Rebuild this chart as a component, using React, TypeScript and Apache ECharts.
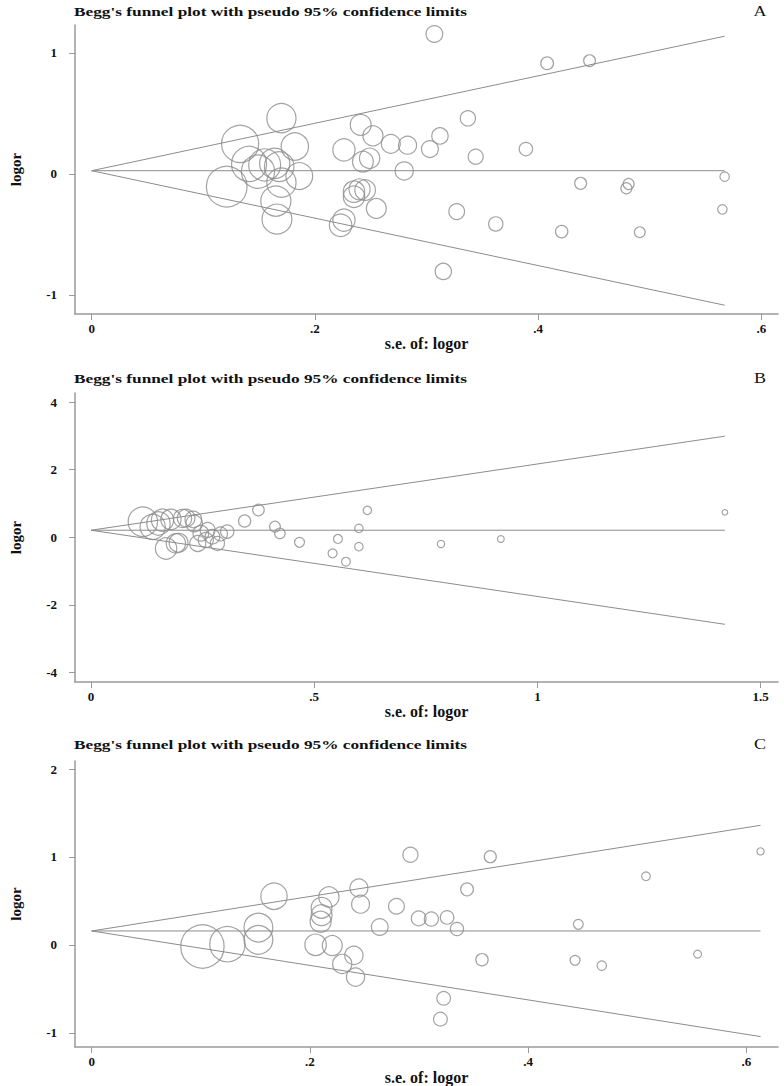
import React, { useEffect, useRef } from 'react';
import * as echarts from 'echarts';

const TITLE = "Begg's funnel plot with pseudo 95% confidence limits";
const X_NAME = 's.e. of: logor';
const Y_NAME = 'logor';

// Panel A
const seA = [0.170, 0.133, 0.182, 0.121, 0.141, 0.149, 0.155, 0.164, 0.168, 0.170, 0.186, 0.165, 0.166,
  0.241, 0.252, 0.226, 0.243, 0.249, 0.268, 0.283, 0.280, 0.235, 0.240, 0.245, 0.235, 0.255, 0.226, 0.223,
  0.307, 0.408, 0.446, 0.337, 0.312, 0.303, 0.344, 0.389, 0.438, 0.481, 0.479, 0.567, 0.327, 0.362, 0.421,
  0.491, 0.565, 0.315];
const logorA = [0.461, 0.249, 0.227, -0.105, 0.083, 0.019, 0.075, 0.088, 0.061, -0.072, -0.017, -0.224, -0.373,
  0.406, 0.315, 0.199, 0.102, 0.130, 0.249, 0.238, 0.025, -0.146, -0.127, -0.133, -0.188, -0.285, -0.381, -0.423,
  1.157, 0.915, 0.936, 0.460, 0.314, 0.206, 0.143, 0.206, -0.077, -0.083, -0.118, -0.022, -0.311, -0.413, -0.476,
  -0.481, -0.292, -0.805];
const thetaA = 0.027;
const xTicksA = [0, 0.2, 0.4, 0.6];
const yTicksA = [-1, 0, 1];

// Panel B
const seB = [0.116, 0.138, 0.151, 0.160, 0.179, 0.168, 0.190, 0.205, 0.231, 0.239, 0.246, 0.261, 0.272, 0.283,
  0.257, 0.229, 0.213, 0.196, 0.305, 0.290,
  0.344, 0.375, 0.412, 0.423, 0.467, 0.541, 0.553, 0.571, 0.600, 0.619, 0.600, 0.784, 0.918, 1.42];
const logorB = [0.46, 0.31, 0.41, 0.51, 0.53, -0.33, -0.18, 0.56, 0.41, -0.18, 0.12, 0.22, 0.02, -0.18,
  -0.08, 0.53, 0.57, -0.16, 0.17, 0.10,
  0.483, 0.809, 0.316, 0.118, -0.148, -0.474, -0.049, -0.720, 0.266, 0.799, -0.276, -0.197, -0.049, 0.739];
const thetaB = 0.21;
const xTicksB = [0, 0.5, 1, 1.5];
const yTicksB = [-4, -2, 0, 2, 4];

// Panel C
const seC = [0.1015, 0.1244, 0.1528, 0.1528, 0.1671, 0.2174, 0.2107, 0.2107, 0.2098, 0.2052, 0.2205, 0.2403,
  0.2296, 0.2418, 0.2449, 0.2464, 0.264, 0.2793, 0.2921, 0.3653, 0.344, 0.2997, 0.3113, 0.3257, 0.3348, 0.446,
  0.508, 0.613, 0.3577, 0.443, 0.4675, 0.5553, 0.3226, 0.3196];
const logorC = [-0.019, 0.008, 0.196, 0.057, 0.553, 0.545, 0.421, 0.338, 0.263, 0.0, -0.008, -0.120, -0.217,
  -0.367, 0.646, 0.462, 0.203, 0.439, 1.025, 1.003, 0.631, 0.301, 0.293, 0.312, 0.180, 0.233, 0.781, 1.063,
  -0.169, -0.176, -0.236, -0.105, -0.608, -0.845];
const thetaC = 0.158;
const xTicksC = [0, 0.2, 0.4, 0.6];
const yTicksC = [-1, 0, 1, 2];

const FONT = "'Liberation Serif', 'Times New Roman', serif";
const GRAY = '#8c8c8c';
const AXIS_GRAY = '#9a9a9a';

const fmtX = (v: number) => (v === 0 ? '0' : String(+v.toFixed(3)).replace(/^(-?)0\./, '$1.'));

const panels = [
  { label: 'A', se: seA, y: logorA, theta: thetaA, xt: xTicksA, yt: yTicksA,
    top: 25, titleY: 11, xMin: -0.0149, xMax: 0.6148, yMin: -1.157, yMax: 1.231, k: 4.8, b: 1 },
  { label: 'B', se: seB, y: logorB, theta: thetaB, xt: xTicksB, yt: yTicksB,
    top: 393, titleY: 378, xMin: -0.036, xMax: 1.539, yMin: -4.28, yMax: 4.27, k: 3, b: 3.5 },
  { label: 'C', se: seC, y: logorC, theta: thetaC, xt: xTicksC, yt: yTicksC,
    top: 761, titleY: 744, xMin: -0.0153, xMax: 0.629, yMin: -1.163, yMax: 2.091, k: 4.4, b: 0 },
];

export default function App() {
  const ref = useRef<HTMLDivElement>(null);
  useEffect(() => {
    if (!ref.current) return;
    const chart = echarts.init(ref.current, null, { renderer: 'svg' });
    const grid: any[] = [];
    const xAxis: any[] = [];
    const yAxis: any[] = [];
    const series: any[] = [];
    const graphic: any[] = [];
    panels.forEach((p, i) => {
      grid.push({ left: 74, top: p.top, width: 704, height: 289 });
      graphic.push({
        type: 'text', x: 74, y: p.titleY, scaleX: 1.33,
        style: { text: TITLE, fontFamily: FONT, fontWeight: 'bold', fontSize: 13, fill: '#111',
          textAlign: 'left', textVerticalAlign: 'middle' },
      });
      graphic.push({
        type: 'text', x: 760, y: p.titleY, scaleX: 1.2,
        style: { text: p.label, fontFamily: FONT, fontSize: 15, fill: '#111',
          textAlign: 'center', textVerticalAlign: 'middle' },
      });
      xAxis.push({
        type: 'value', gridIndex: i, min: p.xMin, max: p.xMax,
        name: X_NAME, nameLocation: 'middle', nameGap: 19,
        nameTextStyle: { fontFamily: FONT, fontSize: 16, fontWeight: 'bold', color: '#111' },
        axisLine: { onZero: false, lineStyle: { color: AXIS_GRAY, width: 1.5 } },
        axisTick: { show: true, length: 6, customValues: p.xt, lineStyle: { color: AXIS_GRAY } },
        axisLabel: { customValues: p.xt, formatter: fmtX, margin: 8,
          fontFamily: FONT, fontWeight: 'bold', fontSize: 13, color: '#111' },
        splitLine: { show: false },
      });
      yAxis.push({
        type: 'value', gridIndex: i, min: p.yMin, max: p.yMax,
        name: Y_NAME, nameLocation: 'middle', nameGap: 52, nameRotate: 90,
        nameTextStyle: { fontFamily: FONT, fontSize: 15, fontWeight: 'bold', color: '#111' },
        axisLine: { show: true, onZero: false, lineStyle: { color: AXIS_GRAY, width: 1.5 } },
        axisTick: { show: true, length: 6, customValues: p.yt, lineStyle: { color: AXIS_GRAY } },
        axisLabel: { customValues: p.yt, formatter: (v: number) => String(v), margin: 18,
          fontFamily: FONT, fontWeight: 'bold', fontSize: 13, color: '#111' },
        splitLine: { show: false },
      });
      const seMax = Math.max(...p.se);
      const lineStyle = { color: GRAY, width: 1 };
      const mk = (data: number[][]) => ({
        type: 'line', xAxisIndex: i, yAxisIndex: i, data, symbol: 'none',
        lineStyle, silent: true, z: 1,
      });
      series.push(mk([[0, p.theta], [seMax, p.theta + 1.96 * seMax]]));
      series.push(mk([[0, p.theta], [seMax, p.theta]]));
      series.push(mk([[0, p.theta], [seMax, p.theta - 1.96 * seMax]]));
      series.push({
        type: 'scatter', xAxisIndex: i, yAxisIndex: i, z: 2,
        data: p.se.map((s, j) => [s, p.y[j]]),
        symbol: 'circle',
        symbolSize: (v: number[]) => p.k / v[0] + p.b,
        itemStyle: { color: 'rgba(0,0,0,0)', borderColor: GRAY, borderWidth: 1.2 },
      });
    });
    chart.setOption({
      animation: false,
      backgroundColor: '#fff',
      graphic, grid, xAxis, yAxis, series,
    });
    return () => chart.dispose();
  }, []);
  return <div ref={ref} style={{ position: 'absolute', left: 0, top: 0, width: 784, height: 1086 }} />;
}
